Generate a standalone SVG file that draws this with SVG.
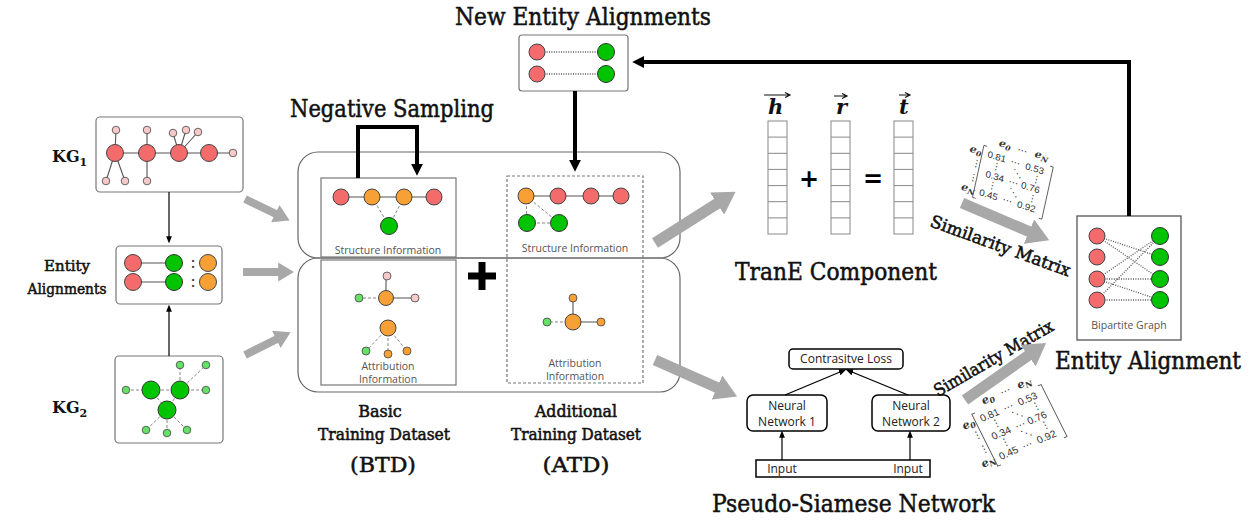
<svg xmlns="http://www.w3.org/2000/svg" width="1258" height="523" viewBox="0 0 1258 523">
<style>
.t{font-family:"DejaVu Serif","Liberation Serif",serif;fill:#111}
.h{stroke:#111;stroke-width:0.55}
.s{font-family:"Open Sans","Noto Sans",sans-serif;fill:#555;font-size:10.5px;text-anchor:middle}
.n{font-family:"Open Sans","Noto Sans",sans-serif;fill:#222;font-size:12px;text-anchor:middle}
.m{font-family:"Liberation Sans",Arial,sans-serif;fill:#333;font-size:9px}
.mi{font-family:"DejaVu Serif",serif;font-style:italic;font-weight:bold;fill:#333;font-size:10px}
.frame{fill:none;stroke:#666;stroke-width:1.2}
.ibox{fill:#fff;stroke:#777;stroke-width:1.2}
.red{fill:#f46b6b;stroke:#444}
.grn{fill:#00c400;stroke:#333}
.org{fill:#f7a035;stroke:#444}
.pk{fill:#f7caca;stroke:#444;stroke-width:.8}
.lg{fill:#66e066;stroke:#444;stroke-width:.8}
.so{fill:#f7a035;stroke:#444;stroke-width:.8}
.e{stroke:#555;stroke-width:1.1;fill:none}
.d{stroke:#888;stroke-width:1;stroke-dasharray:3 2;fill:none}
.dot{stroke:#555;stroke-width:1.3;stroke-dasharray:1 1.4;fill:none}
.ga{stroke:#a8a8a8;fill:none}
.cell{fill:#fff;stroke:#888;stroke-width:1}
.blk{stroke:#000;fill:none}
</style>
<defs>
<marker id="gh" viewBox="0 0 10 12" refX="0.5" refY="6" markerWidth="2" markerHeight="2.4" orient="auto" markerUnits="strokeWidth"><path d="M0,0L10,6L0,12z" fill="#a8a8a8"/></marker>
<marker id="bh" viewBox="0 0 10 10" refX="1" refY="5" markerWidth="3" markerHeight="3" orient="auto" markerUnits="strokeWidth"><path d="M0,0L10,5L0,10z" fill="#000"/></marker>
<marker id="sh" viewBox="0 0 10 10" refX="1" refY="5" markerWidth="6" markerHeight="6" orient="auto" markerUnits="strokeWidth"><path d="M0,1L10,5L0,9z" fill="#000"/></marker>
<g id="mat">
<text class="mi" x="8" y="-14">e<tspan font-size="7" dy="2">0</tspan></text>
<text class="m" x="26" y="-14">⋯</text>
<text class="mi" x="42" y="-14">e<tspan font-size="7" dy="2">N</tspan></text>
<text class="mi" x="-17" y="0">e<tspan font-size="7" dy="2">0</tspan></text>
<text class="mi" x="-17" y="38">e<tspan font-size="7" dy="2">N</tspan></text>
<path d="M-2,-10h-3v52h3M58,-10h3v52h-3" stroke="#555" stroke-width="0.8" fill="none"/>
<text class="m" x="0" y="0">0.81</text><text class="m" x="22" y="0">⋯</text><text class="m" x="36" y="0">0.53</text>
<text class="m" x="2" y="19">0.34</text><text class="m" x="24" y="19">⋯</text><text class="m" x="36" y="19">0.76</text>
<text class="m" x="0" y="38">0.45</text><text class="m" x="22" y="38">⋯</text><text class="m" x="36" y="38">0.92</text>
<text class="m" x="6" y="9">⋮</text><text class="m" x="6" y="28">⋮</text>
<text class="m" x="26" y="9">⋱</text><text class="m" x="26" y="28">⋱</text>
<text class="m" x="44" y="9">⋮</text><text class="m" x="44" y="28">⋮</text>
<text class="m" x="-13" y="12">⋮</text><text class="m" x="-13" y="26">⋮</text>
</g>
</defs>
<rect width="1258" height="523" fill="#fff"/>

<!-- titles -->
<text class="t h" x="455" y="25" font-size="25" textLength="256" lengthAdjust="spacingAndGlyphs">New Entity Alignments</text>
<text class="t h" x="290" y="117" font-size="25" textLength="204" lengthAdjust="spacingAndGlyphs">Negative Sampling</text>
<text class="t h" x="735" y="280" font-size="25" textLength="202" lengthAdjust="spacingAndGlyphs">TranE Component</text>
<text class="t h" font-size="24" transform="translate(1055,369) scale(0.9,1)">Entity Alignment</text>
<text class="t h" x="712" y="512" font-size="25" textLength="283" lengthAdjust="spacingAndGlyphs">Pseudo-Siamese Network</text>

<!-- left labels -->
<text class="t" x="52" y="162" font-size="16" font-weight="bold">KG<tspan font-size="11" dy="4">1</tspan></text>
<text class="t" x="52" y="413" font-size="16" font-weight="bold">KG<tspan font-size="11" dy="4">2</tspan></text>
<text class="t h" x="67" y="271" font-size="15" text-anchor="middle" stroke-width="0.3">Entity</text>
<text class="t h" x="67" y="294" font-size="15" text-anchor="middle" stroke-width="0.3" textLength="79" lengthAdjust="spacingAndGlyphs">Alignments</text>

<!-- dataset labels -->
<g class="t h" text-anchor="middle" stroke-width="0.35">
<text x="380" y="417" font-size="16">Basic</text>
<text x="384" y="440" font-size="16" textLength="132" lengthAdjust="spacingAndGlyphs">Training Dataset</text>
<text x="383" y="472" font-size="21" textLength="66" lengthAdjust="spacingAndGlyphs" stroke-width="0.5">(BTD)</text>
<text x="576" y="417" font-size="16" textLength="82" lengthAdjust="spacingAndGlyphs">Additional</text>
<text x="576" y="440" font-size="16" textLength="130" lengthAdjust="spacingAndGlyphs">Training Dataset</text>
<text x="576" y="472" font-size="21" textLength="67" lengthAdjust="spacingAndGlyphs" stroke-width="0.5">(ATD)</text>
</g>

<!-- KG1 -->
<g id="kg1">
<rect class="ibox" x="96" y="117" width="147" height="75" rx="4"/>
<path class="e" d="M115,153H233M115,153L116,130M115,153L106,181M115,153L125,181M147,153V130M147,153V181M179,153L173,133M179,153L186,130M179,153L198,132"/>
<circle class="pk" cx="116" cy="130" r="3.8"/><circle class="pk" cx="147" cy="130" r="3.8"/><circle class="pk" cx="173" cy="133" r="3.8"/><circle class="pk" cx="186" cy="130" r="3.8"/><circle class="pk" cx="198" cy="132" r="3.8"/><circle class="pk" cx="233" cy="153" r="3.8"/><circle class="pk" cx="106" cy="181" r="3.8"/><circle class="pk" cx="125" cy="181" r="3.8"/><circle class="pk" cx="147" cy="181" r="3.8"/>
<circle class="red" cx="115" cy="153" r="8.5"/><circle class="red" cx="147" cy="153" r="8.5"/><circle class="red" cx="179" cy="153" r="8.5"/><circle class="red" cx="209" cy="153" r="8.5"/>
</g>

<!-- Entity alignments -->
<g id="ea">
<rect class="ibox" x="116" y="246" width="106" height="58" rx="4"/>
<path class="e" d="M133,263H174M133,282H174"/>
<circle class="red" cx="133" cy="263" r="8.5"/><circle class="red" cx="133" cy="282" r="8.5"/>
<circle class="grn" cx="174" cy="263" r="8.5"/><circle class="grn" cx="174" cy="282" r="8.5"/>
<circle class="org" cx="208" cy="263" r="8.5"/><circle class="org" cx="208" cy="282" r="8.5"/>
<text x="193" y="268" font-family="Liberation Sans,sans-serif" font-size="14" font-weight="bold" fill="#444" text-anchor="middle">:</text>
<text x="193" y="287" font-family="Liberation Sans,sans-serif" font-size="14" font-weight="bold" fill="#444" text-anchor="middle">:</text>
</g>

<!-- KG2 -->
<g id="kg2">
<rect class="ibox" x="115" y="356" width="108" height="87" rx="4"/>
<path class="d" d="M126,390H206M151,390L167,410M180,390L167,410M180,390V365M180,390L206,365M167,410L146,430M167,410V433M167,410L187,430"/>
<circle class="lg" cx="126" cy="390" r="3.8"/><circle class="lg" cx="206" cy="390" r="3.8"/><circle class="lg" cx="180" cy="365" r="3.8"/><circle class="lg" cx="206" cy="365" r="3.8"/><circle class="lg" cx="146" cy="430" r="3.8"/><circle class="lg" cx="167" cy="433" r="3.8"/><circle class="lg" cx="187" cy="430" r="3.8"/>
<circle class="grn" cx="151" cy="390" r="9"/><circle class="grn" cx="180" cy="390" r="9"/><circle class="grn" cx="167" cy="410" r="9"/>
</g>

<!-- dataset frames -->
<g id="frames">
<rect class="frame" x="298" y="152" width="382" height="106" rx="20"/>
<rect class="frame" x="298" y="258" width="382" height="134" rx="20"/>
</g>

<g id="btd-structure">
<rect class="ibox" x="321" y="178" width="135" height="79"/>
<path class="e" d="M341,197H434"/>
<path class="d" d="M372,197L389,226M404,197L389,226"/>
<circle class="red" cx="341" cy="197" r="8"/><circle class="org" cx="372" cy="197" r="8"/><circle class="org" cx="404" cy="197" r="8"/><circle class="red" cx="434" cy="197" r="8"/><circle class="grn" cx="389" cy="226" r="8.5"/>
<text class="s" x="388" y="254">Structure Information</text>
</g>

<g id="btd-attribution">
<rect class="ibox" x="321" y="260" width="135" height="125"/>
<path class="e" d="M386,298V276M386,298H415"/>
<path class="d" d="M386,298H359M388,328L366,351M388,328V354M388,328L407,351"/>
<circle class="pk" cx="387" cy="276" r="4"/><circle class="pk" cx="415" cy="298" r="4"/><circle class="lg" cx="359" cy="298" r="4"/>
<circle class="org" cx="386" cy="298" r="7.5"/>
<circle class="org" cx="388" cy="328" r="8"/>
<circle class="lg" cx="366" cy="351" r="4"/><circle class="so" cx="388" cy="354" r="4"/><circle class="so" cx="407" cy="351" r="4"/>
<text class="s" x="388" y="370">Attribution</text>
<text class="s" x="388" y="383">Information</text>
</g>

<path id="plus" d="M482,262V290M468,276H496" stroke="#000" stroke-width="7"/>

<g id="atd">
<rect x="507" y="176" width="136" height="207" fill="none" stroke="#777" stroke-width="1.2" stroke-dasharray="3 2"/>
<path class="e" d="M526,196H621"/>
<path class="d" d="M526,196L527,223M526,196L559,223M527,223H559"/>
<circle class="org" cx="526" cy="196" r="8"/><circle class="red" cx="558" cy="196" r="8"/><circle class="red" cx="591" cy="196" r="8"/><circle class="red" cx="621" cy="196" r="8"/>
<circle class="grn" cx="527" cy="223" r="8.5"/><circle class="grn" cx="559" cy="223" r="8.5"/>
<text class="s" x="575" y="252">Structure Information</text>
<path class="e" d="M573,322V298M573,322H601"/>
<path class="d" d="M573,322H547"/>
<circle class="so" cx="573" cy="298" r="4"/><circle class="so" cx="601" cy="322" r="4"/><circle class="lg" cx="547" cy="322" r="4"/>
<circle class="org" cx="573" cy="322" r="8"/>
<text class="s" x="575" y="367">Attribution</text>
<text class="s" x="575" y="380">Information</text>
</g>

<g id="new-ea">
<rect class="ibox" x="519" y="35" width="109" height="56" rx="3" stroke="#555"/>
<path class="dot" d="M537,52H606M537,74H606"/>
<circle class="red" cx="537" cy="52" r="8"/><circle class="red" cx="537" cy="74" r="8"/>
<circle class="grn" cx="606" cy="52" r="8.5"/><circle class="grn" cx="606" cy="74" r="8.5"/>
</g>

<g id="trane">
<g class="cell">
<rect x="768" y="121" width="19" height="113"/><path d="M768,137.1h19M768,153.3h19M768,169.4h19M768,185.6h19M768,201.7h19M768,217.9h19"/>
<rect x="831" y="121" width="19" height="113"/><path d="M831,137.1h19M831,153.3h19M831,169.4h19M831,185.6h19M831,201.7h19M831,217.9h19"/>
<rect x="894" y="121" width="19" height="113"/><path d="M894,137.1h19M894,153.3h19M894,169.4h19M894,185.6h19M894,201.7h19M894,217.9h19"/>
</g>
<g class="t" font-style="italic" font-weight="bold" font-size="21">
<text x="768" y="114">h</text><text x="836" y="114">r</text><text x="899" y="114">t</text>
</g>
<path d="M764,95H789M785,92.5L790,95L785,97.5M834,96H846M842,93.5L847,96L842,98.5M899,95H909M905,92.5L910,95L905,97.5" stroke="#111" stroke-width="1.2" fill="none"/>
<text x="809" y="187" font-family="DejaVu Sans,sans-serif" font-weight="bold" font-size="24" text-anchor="middle">+</text>
<text x="873" y="187" font-family="DejaVu Sans,sans-serif" font-weight="bold" font-size="24" text-anchor="middle">=</text>
</g>

<g id="bipartite">
<rect x="1077" y="216" width="104" height="124" fill="#fff" stroke="#555" stroke-width="1.3"/>
<path class="dot" d="M1097,236L1160,257M1097,236L1160,279M1097,279H1160M1097,279L1160,300M1097,300H1160M1097,300L1160,236M1097,279L1160,236"/>
<circle class="red" cx="1097" cy="236" r="8"/><circle class="red" cx="1097" cy="257" r="8"/><circle class="red" cx="1097" cy="279" r="8"/><circle class="red" cx="1097" cy="300" r="8"/>
<circle class="grn" cx="1160" cy="236" r="8.5"/><circle class="grn" cx="1160" cy="257" r="8.5"/><circle class="grn" cx="1160" cy="279" r="8.5"/><circle class="grn" cx="1160" cy="300" r="8.5"/>
<text class="s" x="1129" y="329">Bipartite Graph</text>
</g>

<g id="siamese">
<rect x="789" y="349" width="114" height="20" rx="4" fill="#fff" stroke="#000" stroke-width="1.5"/>
<text class="n" x="846" y="363">Contrasitve Loss</text>
<rect x="747" y="395" width="80" height="36" rx="6" fill="#fff" stroke="#000" stroke-width="1.5"/>
<text class="n" x="787" y="410">Neural</text><text class="n" x="787" y="426">Network 1</text>
<rect x="872" y="395" width="78" height="36" rx="6" fill="#fff" stroke="#000" stroke-width="1.5"/>
<text class="n" x="911" y="410">Neural</text><text class="n" x="911" y="426">Network 2</text>
<rect x="756" y="460" width="174" height="17" fill="#fff" stroke="#000" stroke-width="1.5"/>
<text class="n" x="782" y="473">Input</text><text class="n" x="908" y="473">Input</text>
</g>

<!-- matrices -->
<g id="matrix-top"><use href="#mat" transform="matrix(1.05,0.33,-0.22,1.0,987,157)"/></g>
<g id="matrix-bottom"><use href="#mat" transform="matrix(1.05,-0.45,0.5,1.0,982,422)"/></g>
<text class="t h" font-size="17" stroke-width="0.35" transform="translate(929,226) rotate(20)" textLength="148" lengthAdjust="spacingAndGlyphs">Similarity Matrix</text>
<text class="t h" font-size="17" stroke-width="0.35" transform="translate(938,397) rotate(-30)" textLength="135" lengthAdjust="spacingAndGlyphs">Similarity Matrix</text>

<!-- connectors -->
<g id="connectors">
<line class="ga" x1="245" y1="199" x2="276" y2="214" stroke-width="8" marker-end="url(#gh)"/>
<line class="ga" x1="243" y1="272" x2="279" y2="272" stroke-width="8" marker-end="url(#gh)"/>
<line class="ga" x1="245" y1="355" x2="277" y2="339" stroke-width="8" marker-end="url(#gh)"/>
<line class="ga" x1="655" y1="243" x2="718" y2="203" stroke-width="11" marker-end="url(#gh)"/>
<line class="ga" x1="655" y1="360" x2="718" y2="388" stroke-width="11" marker-end="url(#gh)"/>
<line class="ga" x1="962" y1="203" x2="1030" y2="232" stroke-width="11" marker-end="url(#gh)"/>
<line class="ga" x1="965" y1="400" x2="1029" y2="355" stroke-width="11" marker-end="url(#gh)"/>
<line class="blk" x1="169" y1="192" x2="169" y2="237" stroke-width="1.2" marker-end="url(#sh)"/>
<line class="blk" x1="169" y1="356" x2="169" y2="311" stroke-width="1.2" marker-end="url(#sh)"/>
<path class="blk" d="M358,178V127H417V165" stroke-width="4" marker-end="url(#bh)"/>
<path class="blk" d="M575,91V161" stroke-width="4" marker-end="url(#bh)"/>
<path class="blk" d="M1129,216V62H643" stroke-width="4" marker-end="url(#bh)"/>
<line class="blk" x1="782" y1="460" x2="782" y2="437" stroke-width="1.2" marker-end="url(#sh)"/>
<line class="blk" x1="910" y1="460" x2="910" y2="437" stroke-width="1.2" marker-end="url(#sh)"/>
<line class="blk" x1="785" y1="395" x2="840" y2="372" stroke-width="1.3" marker-end="url(#sh)"/>
<line class="blk" x1="908" y1="395" x2="852" y2="372" stroke-width="1.3" marker-end="url(#sh)"/>
</g>
</svg>
